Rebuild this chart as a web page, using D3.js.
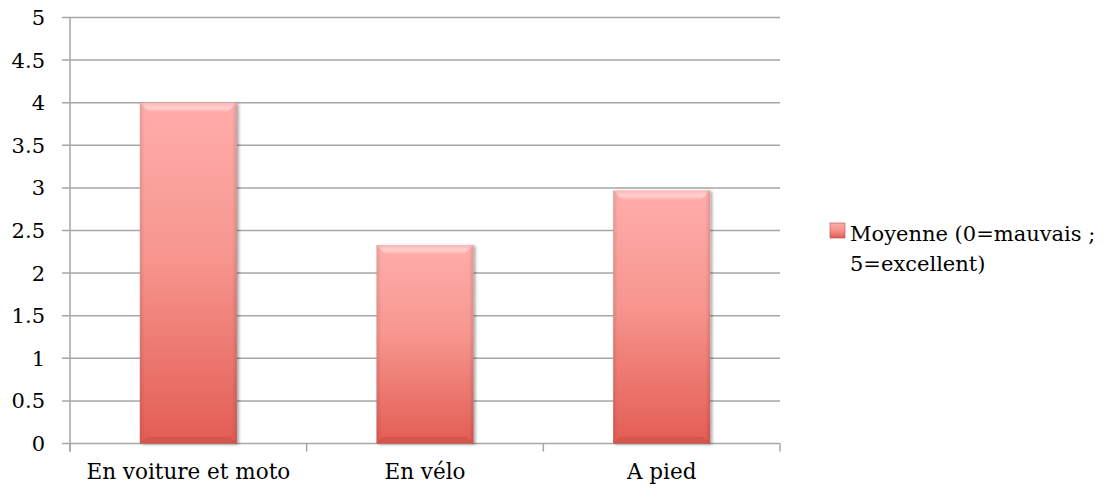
<!DOCTYPE html>
<html>
<head>
<meta charset="utf-8">
<script src="https://cdn.jsdelivr.net/npm/d3@7"></script>
<style>
  body { margin: 0; background: #fff; }
  text { font-family: "DejaVu Serif", serif; fill: #000; }
</style>
</head>
<body>
<svg></svg>
<script>
var width = 1115;
var height = 498;

var categories = ["En voiture et moto", "En vélo", "A pied"];
var values = [4.0, 2.33, 2.97];
var yTicks = [0, 0.5, 1, 1.5, 2, 2.5, 3, 3.5, 4, 4.5, 5];
var seriesName = ["Moyenne (0=mauvais ;", "5=excellent)"];

var margin = {left: 70, right: 335, top: 17.5, bottom: 54.5};

var svg = d3.select("svg").attr("width", width).attr("height", height);

var xScale = d3.scaleBand()
               .domain(categories)
               .range([margin.left, width - margin.right])
               .paddingInner(0.59)
               .paddingOuter(0.295);

var xOuter = d3.scaleBand()
               .domain(categories)
               .range([margin.left, width - margin.right]);

var yScale = d3.scaleLinear()
               .domain([0, 5])
               .range([height - margin.bottom, margin.top]);

var defs = svg.append("defs");
var grad = defs.append("linearGradient")
  .attr("id", "barGrad").attr("x1", 0).attr("y1", 0).attr("x2", 0).attr("y2", 1);
grad.append("stop").attr("offset", "0%").attr("stop-color", "#ffadab");
grad.append("stop").attr("offset", "45%").attr("stop-color", "#f7968f");
grad.append("stop").attr("offset", "100%").attr("stop-color", "#e35d54");

var side = defs.append("linearGradient")
  .attr("id", "sideGrad").attr("x1", 0).attr("y1", 0).attr("x2", 1).attr("y2", 0);
side.append("stop").attr("offset", "0%").attr("stop-color", "#000").attr("stop-opacity", 0.1);
side.append("stop").attr("offset", "5%").attr("stop-color", "#000").attr("stop-opacity", 0);
side.append("stop").attr("offset", "95%").attr("stop-color", "#000").attr("stop-opacity", 0);
side.append("stop").attr("offset", "100%").attr("stop-color", "#000").attr("stop-opacity", 0.12);

var topGrad = defs.append("linearGradient")
  .attr("id", "topGrad").attr("x1", 0).attr("y1", 0).attr("x2", 0).attr("y2", 1);
topGrad.append("stop").attr("offset", "0%").attr("stop-color", "#fff").attr("stop-opacity", 0.1);
topGrad.append("stop").attr("offset", "60%").attr("stop-color", "#fff").attr("stop-opacity", 0.45);
topGrad.append("stop").attr("offset", "100%").attr("stop-color", "#fff").attr("stop-opacity", 0.05);

var shadow = defs.append("filter").attr("id", "shadow")
  .attr("x", "-10%").attr("y", "-10%").attr("width", "130%").attr("height", "120%");
shadow.append("feDropShadow").attr("dx", 2).attr("dy", 1).attr("stdDeviation", 1.5)
  .attr("flood-color", "#000").attr("flood-opacity", 0.35);

// gridlines
svg.append("g")
  .selectAll("line")
  .data(yTicks)
  .enter()
  .append("line")
  .attr("x1", margin.left - 8)
  .attr("x2", width - margin.right)
  .attr("y1", function(d) { return yScale(d); })
  .attr("y2", function(d) { return yScale(d); })
  .attr("stroke", "#a6a6a6")
  .attr("stroke-width", 1.5);

// y axis line
svg.append("line")
  .attr("x1", margin.left).attr("x2", margin.left)
  .attr("y1", yScale(5)).attr("y2", yScale(0) + 8)
  .attr("stroke", "#a6a6a6").attr("stroke-width", 1.5);

// x ticks at category boundaries
var bounds = categories.map(function(c) { return xOuter(c); });
bounds.push(width - margin.right);
svg.append("g")
  .selectAll("line")
  .data(bounds)
  .enter()
  .append("line")
  .attr("x1", function(d) { return d; })
  .attr("x2", function(d) { return d; })
  .attr("y1", yScale(0))
  .attr("y2", yScale(0) + 8)
  .attr("stroke", "#a6a6a6")
  .attr("stroke-width", 1.5);

// y labels
svg.append("g")
  .selectAll("text")
  .data(yTicks)
  .enter()
  .append("text")
  .text(function(d) { return d; })
  .attr("x", margin.left - 25)
  .attr("y", function(d) { return yScale(d); })
  .attr("dy", "0.36em")
  .attr("text-anchor", "end")
  .style("font-size", "21px");

// bars
var bars = svg.append("g")
  .selectAll("g")
  .data(values)
  .enter()
  .append("g");

bars.append("rect")
  .attr("x", function(d, i) { return xScale(categories[i]); })
  .attr("y", function(d) { return yScale(d); })
  .attr("width", xScale.bandwidth())
  .attr("height", function(d) { return yScale(0) - yScale(d); })
  .attr("fill", "url(#barGrad)")
  .attr("filter", "url(#shadow)");

bars.append("rect")
  .attr("x", function(d, i) { return xScale(categories[i]); })
  .attr("y", function(d) { return yScale(d); })
  .attr("width", xScale.bandwidth())
  .attr("height", function(d) { return yScale(0) - yScale(d); })
  .attr("fill", "url(#sideGrad)");

// top bevel highlight
bars.append("path")
  .attr("d", function(d, i) {
    var x0 = xScale(categories[i]), x1 = x0 + xScale.bandwidth(), y0 = yScale(d);
    return "M" + x0 + "," + y0 + "L" + x1 + "," + y0 + "L" + (x1 - 9) + "," + (y0 + 9) +
           "L" + (x0 + 9) + "," + (y0 + 9) + "Z";
  })
  .attr("fill", "url(#topGrad)");

// bottom bevel shade
bars.append("path")
  .attr("d", function(d, i) {
    var x0 = xScale(categories[i]), x1 = x0 + xScale.bandwidth(), y0 = yScale(0);
    return "M" + x0 + "," + y0 + "L" + x1 + "," + y0 + "L" + (x1 - 7) + "," + (y0 - 7) +
           "L" + (x0 + 7) + "," + (y0 - 7) + "Z";
  })
  .attr("fill", "#a0302a")
  .attr("opacity", 0.2);

// x labels
svg.append("g")
  .selectAll("text")
  .data(categories)
  .enter()
  .append("text")
  .text(function(d) { return d; })
  .attr("x", function(d) { return xOuter(d) + xOuter.bandwidth() / 2; })
  .attr("y", yScale(0) + 35)
  .attr("text-anchor", "middle")
  .style("font-size", "21.5px");

// legend
var legend = svg.append("g");
legend.append("rect")
  .attr("x", 830).attr("y", 223).attr("width", 15).attr("height", 15)
  .attr("fill", "url(#barGrad)").attr("stroke", "#b04a44").attr("stroke-width", 0.6);
legend.selectAll("text")
  .data(seriesName)
  .enter()
  .append("text")
  .text(function(d) { return d; })
  .attr("x", 850)
  .attr("y", function(d, i) { return 241 + i * 30; })
  .style("font-size", "21px");
</script>
</body>
</html>
